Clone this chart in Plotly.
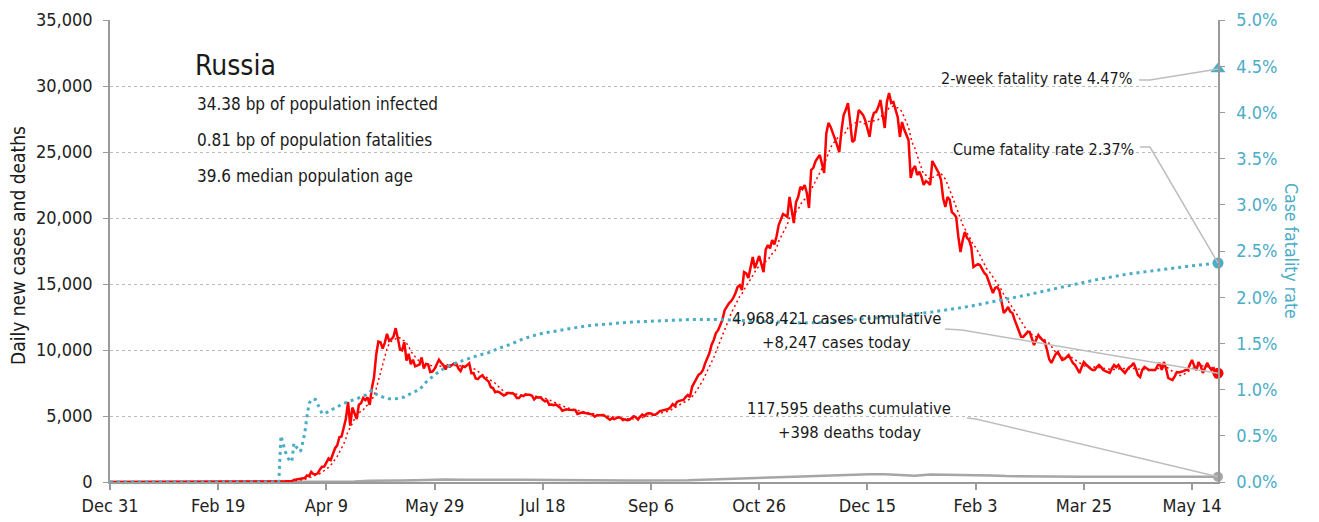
import pandas as pd
import plotly.graph_objects as go

START = pd.Timestamp("2019-12-31")

# Daily new confirmed cases, one value per day starting 2019-12-31
daily_cases = [
    # Dec 31 2019 - Jan 2020
    0, 0, 0, 0, 0, 0, 0, 0, 0, 0, 0, 0, 0, 0, 0, 0, 0, 0, 0, 0, 0, 0, 0, 0, 0, 0, 0, 0, 0, 0, 0, 2,
    # Feb 2020
    0, 0, 0, 0, 0, 0, 0, 0, 0, 0, 0, 0, 0, 0, 0, 0, 0, 0, 0, 0, 0, 0, 0, 0, 0, 0, 0, 0, 0, 0,
    # Mar 2020
    1, 0, 0, 0, 1, 6, 0, 0, 7, 3, 8, 17, 14, 4, 27, 24, 33, 52, 54, 53, 61, 71, 57, 163, 182, 196,
    228, 270, 302, 501,
    # Apr 2020
    440, 771, 601, 582, 658, 954, 1154, 1175, 1459, 1786, 1667, 2186, 2558, 2774, 3388, 3448, 4070,
    4785, 6060, 4268, 5642, 5236, 4774, 5849, 5966, 6361, 6198, 6411, 5841, 7099,
    # May 2020
    7933, 9623, 10633, 10581, 10102, 10559, 11231, 10699, 10817, 11012, 11656, 10899, 10028, 9974,
    10598, 9200, 9709, 8926, 9263, 8764, 8849, 8894, 9434, 8599, 8946, 8915, 8338, 8371, 8572, 8952,
    9268,
    # Jun 2020
    9035, 8863, 8536, 8831, 8726, 8855, 8984, 8985, 8595, 8404, 8779, 8706, 8835, 8987, 8246, 8248,
    7843, 7790, 7972, 8063, 7889, 7728, 7600, 7176, 7113, 6800, 6852, 6791, 6693, 6556,
    # Jul 2020
    6632, 6760, 6718, 6736, 6611, 6368, 6368, 6562, 6509, 6635, 6615, 6611, 6537, 6248, 6422, 6428,
    6406, 6234, 6109, 6170, 5842, 5862, 5811, 5871, 5765, 5635, 5395, 5475, 5509, 5482, 5462,
    # Aug 2020
    5427, 5462, 5159, 5204, 5267, 5241, 5212, 5189, 5118, 5102, 4945, 5057, 5065, 5061, 5076, 4969,
    4839, 4718, 4828, 4767, 4838, 4921, 4852, 4696, 4744, 4676, 4711, 4829, 4980, 4897, 4729,
    # Sep 2020
    4952, 5110, 4995, 5185, 5205, 5195, 5099, 5099, 5218, 5363, 5406, 5449, 5509, 5529, 5670, 5905,
    5762, 6065, 6148, 6196, 6215, 6431, 6595, 6431, 7212, 7523, 7867, 8135, 8232, 8481,
    # Oct 2020
    8990, 9400, 9770, 10400, 10760, 11290, 11500, 11890, 12300, 13000, 13300, 13540, 13700, 13940,
    14300, 14770, 14900, 14540, 15900, 15800, 15450, 16300, 17050, 16200, 16600, 17120, 16500,
    15900, 17600, 17950, 17700,
    # Nov 2020
    18330, 18000, 18600, 19470, 19900, 20300, 20200, 20080, 21590, 20400, 19620, 21200, 21590,
    22350, 22200, 22500, 21900, 20760, 23640, 23800, 24300, 24550, 24770, 24100, 23410, 26400,
    27200, 26900, 26520, 26000,
    # Dec 2020
    25500, 25000, 26600, 27800, 28200, 28710, 27300, 25760, 25900, 27000, 28180, 28000, 27800,
    27400, 26800, 26140, 27400, 27960, 28030, 28400, 28940, 27800, 26820, 28800, 29470, 28710,
    28790, 28200, 27650, 26140, 27270,
    # Jan 2021
    26700, 26300, 25910, 23030, 23700, 23940, 23260, 23500, 23110, 22500, 22800, 22700, 22500,
    24320, 24000, 23640, 23400, 22880, 21500, 20830, 21590, 21400, 20450, 20300, 20080, 18600,
    17420, 18300, 18940, 18500, 18330,
    # Feb 2021
    17800, 16290, 16400, 16500, 16440, 16100, 15830, 15680, 15200, 14770, 14320, 14700, 14770,
    14500, 13600, 12800, 13000, 13260, 12900, 12800, 12300, 11890, 11400, 11000, 10990, 11200,
    11360, 11360,
    # Mar 2021
    10900, 10380, 10800, 11140, 10900, 10750, 10610, 10000, 9300, 9020, 9400, 9700, 9850, 9500,
    9240, 9300, 9500, 9620, 9300, 9000, 8860, 8500, 8260, 8700, 9090, 8900, 8710, 8600, 8480,
    8480, 8700,
    # Apr 2021
    8860, 8700, 8480, 8400, 8300, 8260, 8600, 8860, 8700, 8860, 8600, 8400, 8260, 8500, 8700,
    8800, 9020, 8600, 8100, 7950, 8500, 8710, 8600, 8500, 8480, 8480, 8480, 8800, 9020, 8500,
    # May 2021
    9090, 8600, 7880, 7800, 7730, 8000, 8330, 8300, 8330, 8400, 8480, 8480, 8900, 9240, 8800,
    8480, 9090, 8800, 8260, 8700, 9020, 8700, 8480, 8600, 7880, 8247,
]

# Daily deaths, weekly readings from 2020-04-01 (zero before mid-March 2020)
weekly_deaths = [
    2, 10, 28, 45, 95, 80, 105, 135, 170, 180, 175, 190, 160, 170, 175, 160, 140, 130, 120, 115,
    110, 105, 110, 110, 120, 130, 170, 200, 260, 300, 330, 370, 400, 440, 480, 540, 570, 580, 590,
    560, 480, 570, 560, 540, 520, 490, 450, 430, 420, 430, 420, 400, 390, 390, 380, 380, 380, 380,
    380, 390, 398,
]

# Cumulative case fatality rate (%), day offsets from 2019-12-31
cfr_days = [
    0, 78, 79, 80, 81, 82, 83, 84, 85, 86, 87, 88, 89, 90, 91, 92, 93, 94, 95, 96, 97, 98, 99, 100,
    102, 104, 107, 110, 114, 118, 121, 123, 126, 129, 132, 136, 140, 143, 146, 150,
    155, 160, 165, 170, 175, 180, 185, 190, 195, 200,
    210, 220, 230, 240, 250, 260, 270, 280, 290, 300, 310, 320, 330, 340, 350, 360,
    366, 380, 397, 412, 425, 440, 456, 470, 486, 500, 512,
]
cfr_pct = [
    0, 0, 0.50, 0.40, 0.33, 0.27, 0.23, 0.22, 0.42, 0.38, 0.35, 0.33, 0.42, 0.53, 0.71, 0.85, 0.89,
    0.90, 0.89, 0.84, 0.78, 0.74, 0.74, 0.75,
    0.78, 0.80, 0.84, 0.87, 0.90, 0.94, 0.99, 0.95, 0.92, 0.90, 0.90, 0.92, 0.97, 1.00, 1.08, 1.16,
    1.24, 1.29, 1.33, 1.37, 1.40, 1.45, 1.49, 1.54, 1.58, 1.61,
    1.65, 1.69, 1.71, 1.73, 1.74, 1.75, 1.76, 1.76, 1.75, 1.74, 1.73, 1.72, 1.73, 1.75, 1.77, 1.79,
    1.80, 1.84, 1.90, 1.97, 2.03, 2.11, 2.19, 2.25, 2.30, 2.34, 2.37,
]

country = "Russia"
stat_lines = [
    "34.38 bp of population infected",
    "0.81 bp of population fatalities",
    "39.6 median population age",
]
total_cases = 4968421
total_deaths = 117595
two_week_cfr_pct = 4.47

# ---------------------------------------------------------------------------
RED = "#ff0000"
CYAN = "#4bacc6"
GREY = "#a6a6a6"
AXIS = "#9a9a9a"
TEXT = "#1a1a1a"
FONT = "DejaVu Sans Condensed, DejaVu Sans, sans-serif"

Y_MAX = 35000
Y2_MAX = 0.05

case_dates = pd.date_range(START, periods=len(daily_cases), freq="D")
last_date = case_dates[-1]
cases_avg = pd.Series(daily_cases).rolling(7, min_periods=1).mean()
today_cases = daily_cases[-1]
today_deaths = weekly_deaths[-1]
cume_cfr_pct = cfr_pct[-1]

death_dates = [START, START + pd.Timedelta(days=78)] + list(
    pd.date_range("2020-04-01", periods=len(weekly_deaths), freq="7D"))
death_vals = [0, 0] + weekly_deaths

cfr_dates = [START + pd.Timedelta(days=d) for d in cfr_days]
cfr_frac = [v / 100 for v in cfr_pct]

fig = go.Figure()

fig.add_trace(go.Scatter(x=death_dates, y=death_vals, mode="lines",
                         line=dict(color=GREY, width=2.5), hoverinfo="skip"))
fig.add_trace(go.Scatter(x=cfr_dates, y=cfr_frac, yaxis="y2", mode="lines",
                         line=dict(color=CYAN, width=3, dash="3px,4px"), hoverinfo="skip"))
fig.add_trace(go.Scatter(x=case_dates, y=cases_avg, mode="lines",
                         line=dict(color=RED, width=1.5, dash="2px,3px"), hoverinfo="skip"))
fig.add_trace(go.Scatter(x=case_dates, y=daily_cases, mode="lines",
                         line=dict(color=RED, width=2.5), hoverinfo="skip"))

# end-of-series markers
fig.add_trace(go.Scatter(x=[last_date], y=[today_deaths], mode="markers", cliponaxis=False,
                         marker=dict(color=GREY, size=10)))
fig.add_trace(go.Scatter(x=[last_date], y=[today_cases], mode="markers", cliponaxis=False,
                         marker=dict(color=RED, size=11)))
fig.add_trace(go.Scatter(x=[last_date], y=[cume_cfr_pct / 100], yaxis="y2", mode="markers",
                         cliponaxis=False, marker=dict(color=CYAN, size=11)))
fig.add_trace(go.Scatter(x=[last_date], y=[two_week_cfr_pct / 100], yaxis="y2", mode="markers",
                         cliponaxis=False, marker=dict(color=CYAN, size=13, symbol="triangle-up")))

# plot area in pixels
PL, PR, PT, PB = 110, 1218, 20, 482


def px(x, y):
    return (x - PL) / (PR - PL), (PB - y) / (PB - PT)


annotations = []


def label(text, x, y, size, anchor="left", color=TEXT, angle=0):
    ax, ay = px(x, y)
    annotations.append(dict(text=text, x=ax, y=ay, xref="paper", yref="paper",
                            xanchor=anchor, yanchor="middle", showarrow=False,
                            textangle=angle, font=dict(family=FONT, size=size, color=color)))


label(country, 193, 66, 28)
for i, line in enumerate(stat_lines):
    label(line, 195, 104 + 36 * i, 17)

label(f"2-week fatality rate {two_week_cfr_pct:.2f}%", 1134, 79, 16, anchor="right")
label(f"Cume fatality rate {cume_cfr_pct:.2f}%", 1136, 149, 16, anchor="right")
label(f"{total_cases:,} cases cumulative", 836, 318, 16.5, anchor="center")
label(f"+{today_cases:,} cases today", 836, 343, 16.5, anchor="center")
label(f"{total_deaths:,} deaths cumulative", 849, 408, 16.5, anchor="center")
label(f"+{today_deaths:,} deaths today", 849, 432, 16.5, anchor="center")

label("Daily new cases and deaths", 18, 246, 19, anchor="center", angle=-90)
label("Case fatality rate", 1291, 251, 17.5, anchor="center", color=CYAN, angle=90)

# leader lines from labels to the end-of-series markers
shapes = []


def leader(points_px, end_y_paper):
    pts = [px(x, y) for x, y in points_px] + [(1.0, end_y_paper)]
    path = "M " + " L ".join(f"{x:.5f},{y:.5f}" for x, y in pts)
    shapes.append(dict(type="path", path=path, xref="paper", yref="paper",
                       line=dict(color="#bdbdbd", width=1.5)))


leader([(1139, 80), (1150, 80)], two_week_cfr_pct / 100 / Y2_MAX)
leader([(1140, 147), (1150, 147)], cume_cfr_pct / 100 / Y2_MAX)
leader([(945, 329), (962, 330)], today_cases / Y_MAX)
leader([(967, 418), (976, 419)], today_deaths / Y_MAX)

tick_font = dict(family=FONT, size=18, color="#222")

fig.update_layout(
    width=1319, height=522,
    margin=dict(l=PL, r=1319 - PR, t=PT, b=522 - PB),
    paper_bgcolor="white", plot_bgcolor="white",
    showlegend=False,
    font=dict(family=FONT),
    annotations=annotations,
    shapes=shapes,
    xaxis=dict(
        type="date", range=[START, last_date], automargin=False,
        tick0=START, dtick=50 * 86400000, tickformat="%b %-d",
        ticks="outside", ticklen=6, tickwidth=1.5, tickcolor=AXIS,
        showline=True, linecolor=AXIS, linewidth=2,
        showgrid=False, zeroline=False, tickfont=tick_font,
    ),
    yaxis=dict(
        range=[0, Y_MAX], dtick=5000, tickformat=",d", automargin=False,
        ticks="outside", ticklen=5, tickcolor=AXIS, ticklabelstandoff=7,
        showline=True, linecolor=AXIS, linewidth=1.5,
        showgrid=True, gridcolor="#bbbbbb", griddash="dot", gridwidth=1,
        zeroline=False, tickfont=tick_font,
    ),
    yaxis2=dict(
        overlaying="y", side="right", range=[0, Y2_MAX], dtick=0.005, tickformat=".1%",
        automargin=False,
        ticks="outside", ticklen=5, tickcolor=AXIS, ticklabelstandoff=8,
        showline=True, linecolor=AXIS, linewidth=1.5,
        showgrid=False, zeroline=False,
        tickfont=dict(family=FONT, size=18, color=CYAN),
    ),
)

fig.write_html("out.html")
